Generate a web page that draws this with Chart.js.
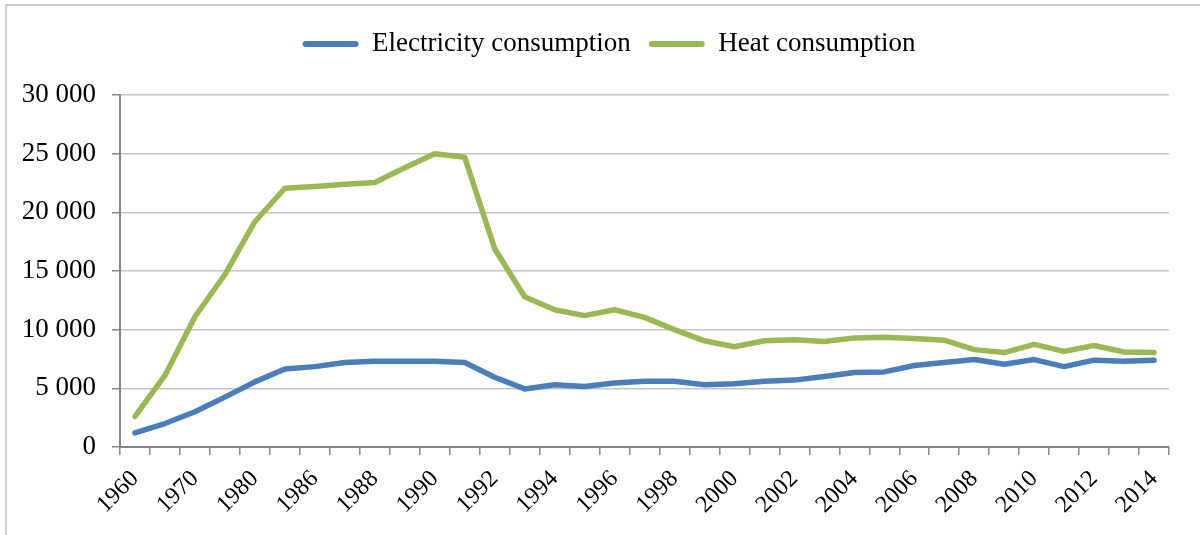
<!DOCTYPE html>
<html>
<head>
<meta charset="utf-8">
<script src="https://cdn.jsdelivr.net/npm/chart.js@4/dist/chart.umd.min.js"></script>
<style>
	html, body {
		margin: 0;
		padding: 0;
		background: #ffffff;
		overflow: hidden;
	}
	#frame {
		position: absolute;
		left: 5px;
		top: 4px;
		width: 1300px;
		height: 700px;
		border-top: 2px solid #cfcfcf;
		border-left: 2px solid #cfcfcf;
	}
	#content {
		position: absolute;
		left: 0;
		top: 0;
		width: 1200px;
		height: 535px;
	}
</style>
</head>
<body>
<div id="frame"></div>
<div id="content"><canvas id="chart"></canvas></div>
<script>
const years = [
	"1960", "1965", "1970", "1975", "1980", "1985", "1986", "1987", "1988", "1989",
	"1990", "1991", "1992", "1993", "1994", "1995", "1996", "1997", "1998", "1999",
	"2000", "2001", "2002", "2003", "2004", "2005", "2006", "2007", "2008", "2009",
	"2010", "2011", "2012", "2013", "2014"
];

const electricity = [
	1200, 2000, 3000, 4250, 5550, 6650, 6850, 7200, 7300, 7300,
	7300, 7200, 5950, 4950, 5300, 5150, 5450, 5600, 5600, 5300,
	5400, 5600, 5700, 6000, 6350, 6400, 6950, 7200, 7450, 7050,
	7450, 6850, 7400, 7300, 7400
];

const heat = [
	2600, 6100, 11100, 14700, 19200, 22050, 22200, 22400, 22550, 23800,
	25000, 24700, 16900, 12800, 11700, 11200, 11700, 11050, 10000, 9050,
	8550, 9050, 9150, 9000, 9300, 9350, 9250, 9100, 8300, 8050,
	8750, 8150, 8650, 8100, 8050
];

const yTicks = [0, 5000, 10000, 15000, 20000, 25000, 30000];

function formatThousands(value) {
	return value.toString().replace(/\B(?=(\d{3})+(?!\d))/g, " ");
}

function drawChart() {
	const fontFamily = "'Liberation Serif', 'Times New Roman', serif";
	const canvas = document.getElementById("chart");
	const context = canvas.getContext("2d");

	// legend box is forced to a fixed height so the plot starts at y = 95,
	// and nudged right a little after layout
	const legendTweak = {
		id: "legendTweak",
		beforeInit(chart) {
			const fit = chart.legend.fit;
			chart.legend.fit = function () {
				fit.bind(chart.legend)();
				this.height = 82.5;
			};
		},
		afterLayout(chart) {
			chart.legend.left += 15.5;
			chart.legend.right += 15.5;
		}
	};

	const datasets = [
		{
			label: "Electricity consumption",
			data: electricity,
			borderColor: "#4a7ebb",
			backgroundColor: "#4a7ebb"
		},
		{
			label: "Heat consumption",
			data: heat,
			borderColor: "#98b954",
			backgroundColor: "#98b954"
		}
	];
	datasets.forEach(ds => {
		ds.borderWidth = 5.5;
		ds.pointRadius = 0;
		ds.tension = 0;
		ds.borderJoinStyle = "round";
		ds.borderCapStyle = "round";
	});

	new Chart(context, {
		type: "line",
		data: {
			labels: years,
			datasets: datasets
		},
		options: {
			responsive: true,
			maintainAspectRatio: false,
			animation: false,
			layout: {
				padding: { top: 12.5, left: 18, right: 31, bottom: 0 }
			},
			plugins: {
				legend: {
					position: "top",
					labels: {
						boxWidth: 56,
						boxHeight: 6,
						padding: 18,
						useBorderRadius: true,
						borderRadius: 3,
						color: "#000000",
						font: { family: fontFamily, size: 27 },
						generateLabels(chart) {
							return chart.data.datasets.map((ds, i) => ({
								text: ds.label,
								fillStyle: ds.borderColor,
								strokeStyle: ds.borderColor,
								lineWidth: 0,
								borderRadius: 3,
								datasetIndex: i,
								hidden: false
							}));
						}
					}
				},
				tooltip: { enabled: false }
			},
			scales: {
				x: {
					offset: true,
					grid: {
						offset: true,
						drawOnChartArea: false,
						drawTicks: true,
						tickLength: 8,
						color: "#868686",
						tickColor: "#868686",
						lineWidth: 1.5
					},
					border: { color: "#868686", width: 2 },
					ticks: {
						autoSkip: false,
						minRotation: 45,
						maxRotation: 45,
						padding: 10,
						color: "#000000",
						font: { family: fontFamily, size: 24 },
						callback: (value, index) => index % 2 === 0 ? years[index] : ""
					},
					afterFit(scale) {
						scale.height = 88;
					}
				},
				y: {
					min: 0,
					max: 30000,
					afterBuildTicks(scale) {
						scale.ticks = yTicks.map(v => ({ value: v }));
					},
					grid: {
						color: "#c4c4c4",
						lineWidth: 1.5,
						tickLength: 8,
						tickColor: "#868686"
					},
					border: { color: "#868686", width: 2 },
					ticks: {
						padding: 16,
						color: "#000000",
						font: { family: fontFamily, size: 27 },
						callback: value => formatThousands(value)
					},
					afterFit(scale) {
						scale.width = 102;
					}
				}
			}
		},
		plugins: [legendTweak]
	});
}

document.addEventListener("DOMContentLoaded", _ => {
	drawChart();
});
</script>
</body>
</html>
